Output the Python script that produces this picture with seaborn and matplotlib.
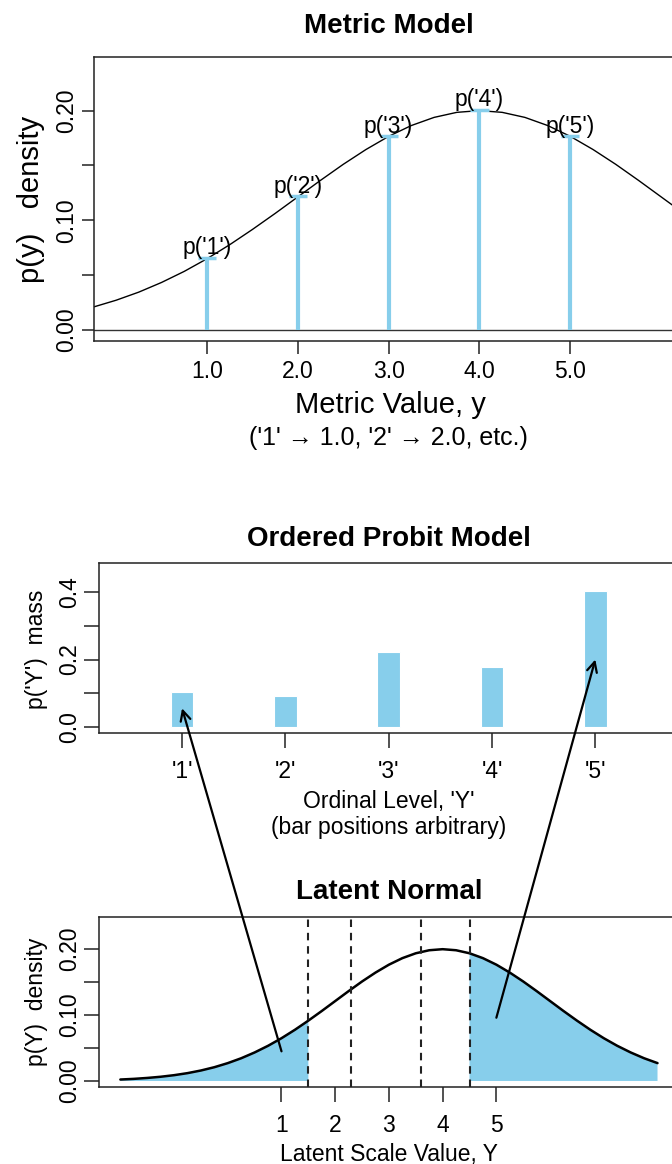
import matplotlib
matplotlib.use('Agg')
import matplotlib.pyplot as plt
from matplotlib.patches import ConnectionPatch
import seaborn as sns
import numpy as np

# latent normal density, every 0.25 from -2 to 8
latent_x = [-2.0, -1.75, -1.5, -1.25, -1.0, -0.75, -0.5, -0.25,
            0.0, 0.25, 0.5, 0.75, 1.0, 1.25, 1.5, 1.75,
            2.0, 2.25, 2.5, 2.75, 3.0, 3.25, 3.5, 3.75,
            4.0, 4.25, 4.5, 4.75, 5.0, 5.25, 5.5, 5.75,
            6.0, 6.25, 6.5, 6.75, 7.0, 7.25, 7.5, 7.75, 8.0]
latent_dens = [0.0022, 0.0032, 0.0046, 0.0064, 0.0088, 0.0119, 0.0159, 0.0209,
               0.0271, 0.0345, 0.0433, 0.0534, 0.0649, 0.0777, 0.0916, 0.1062,
               0.1213, 0.1364, 0.1510, 0.1645, 0.1765, 0.1864, 0.1938, 0.1984,
               0.2000, 0.1984, 0.1938, 0.1864, 0.1765, 0.1645, 0.1510, 0.1364,
               0.1213, 0.1062, 0.0916, 0.0777, 0.0649, 0.0534, 0.0433, 0.0345, 0.0271]

# metric model
metric_vals = [1.0, 2.0, 3.0, 4.0, 5.0]
metric_probs = [0.066, 0.122, 0.177, 0.201, 0.177]
metric_labels = ["p('1')", "p('2')", "p('3')", "p('4')", "p('5')"]
metric_ticklabels = ["1.0", "2.0", "3.0", "4.0", "5.0"]

# ordered probit model
ordinal_levels = ["'1'", "'2'", "'3'", "'4'", "'5'"]
ordinal_mass = [0.105, 0.092, 0.223, 0.179, 0.402]

# latent normal
thresholds = [1.5, 2.3, 3.6, 4.5]
latent_ticks = [1, 2, 3, 4, 5]

# arrows: (latent value, density) -> (ordinal index, mass)
arrow_from = [(1.0, 0.045), (5.0, 0.096)]
arrow_to = [(0, 0.056), (4, 0.200)]

sns.set_style("ticks")
plt.rcParams['font.family'] = ['Liberation Sans', 'DejaVu Sans']
plt.rcParams['text.color'] = 'black'
plt.rcParams['axes.labelcolor'] = 'black'
plt.rcParams['axes.edgecolor'] = '#222222'
plt.rcParams['axes.linewidth'] = 1.1
plt.rcParams['xtick.color'] = '#222222'
plt.rcParams['ytick.color'] = '#222222'
plt.rcParams['xtick.labelcolor'] = 'black'
plt.rcParams['ytick.labelcolor'] = 'black'

W, H = 672, 1164
fig = plt.figure(figsize=(W / 100, H / 100), dpi=100)


def box(l, t, r, b):
    return fig.add_axes([l / W, 1 - b / H, (r - l) / W, (b - t) / H])


def yfmt(ax, ticks, labels, length, pad):
    ax.set_yticks(ticks)
    ax.set_yticklabels(labels, rotation=90, va='center', fontsize=16.5)
    ax.tick_params(axis='y', length=length, width=1.1, pad=pad)


blue = '#87CEEB'

# ---------------- Metric model ----------------
ax1 = box(94.3, 57.3, 683, 340.7)
ax1.axhline(0, color='#333333', lw=1.0)
sns.lineplot(x=latent_x, y=latent_dens, ax=ax1, color='black', lw=1.0)
ax1.vlines(metric_vals, 0, metric_probs, color=blue, lw=3)
ax1.hlines(metric_probs, [v - 0.1 for v in metric_vals], [v + 0.1 for v in metric_vals],
           color=blue, lw=2.5)
for v, p, lab in zip(metric_vals, metric_probs, metric_labels):
    ax1.text(v, p + 0.003, lab, ha='center', va='baseline', fontsize=16.5)
ax1.set_xlim(-0.24, 6.24)
ax1.set_ylim(-0.0098, 0.2486)
ax1.set_xticks(metric_vals)
ax1.set_xticklabels(metric_ticklabels, fontsize=16.5)
ax1.tick_params(axis='x', length=9.4, width=1.1, pad=4.3)
yfmt(ax1, [0, 0.05, 0.10, 0.15, 0.20], ['0.00', '', '0.10', '', '0.20'], 9, 2.7)
ax1.set_xlabel('')
ax1.set_ylabel('')

fig.text(389 / W, 1 - 33 / H, 'Metric Model', ha='center', va='baseline',
         fontsize=20, fontweight='bold')
fig.text(31 / W, 1 - 199 / H, 'p(y)   density', ha='center', va='center',
         rotation=90, fontsize=21)
fig.text(390 / W, 1 - 413 / H, 'Metric Value, y', ha='center', va='baseline', fontsize=21)
fig.text(388 / W, 1 - 445 / H, "('1' \u2192 1.0, '2' \u2192 2.0, etc.)", ha='center',
         va='baseline', fontsize=18)

# ---------------- Ordered probit model ----------------
ax2 = box(99.4, 563.3, 679, 733.3)
sns.barplot(x=ordinal_levels, y=ordinal_mass, ax=ax2, color=blue, saturation=1,
            width=0.22, edgecolor='white', linewidth=0.8)
ax2.set_xlim(-0.80, 4.81)
ax2.set_ylim(-0.0177, 0.4838)
ax2.tick_params(axis='x', length=10.8, width=1.1, pad=8.4, labelsize=16.5)
yfmt(ax2, [0, 0.1, 0.2, 0.3, 0.4], ['0.0', '', '0.2', '', '0.4'], 10.8, 2.2)
ax2.set_xlabel('')
ax2.set_ylabel('')

fig.text(389 / W, 1 - 546 / H, 'Ordered Probit Model', ha='center', va='baseline',
         fontsize=20, fontweight='bold')
fig.text(37 / W, 1 - 649 / H, "p('Y')  mass", ha='center', va='center',
         rotation=90, fontsize=16.5)
fig.text(389 / W, 1 - 808 / H, "Ordinal Level, 'Y'", ha='center', va='baseline', fontsize=16.5)
fig.text(389 / W, 1 - 834 / H, "(bar positions arbitrary)", ha='center', va='baseline',
         fontsize=16.5)

# ---------------- Latent normal ----------------
ax3 = box(99.4, 917.3, 679, 1087.3)
lx = np.array(latent_x)
ax3.fill_between(lx, latent_dens, 0, where=(lx <= thresholds[0]) | (lx >= thresholds[-1]),
                 color=blue, lw=0)
sns.lineplot(x=latent_x, y=latent_dens, ax=ax3, color='black', lw=1.8)
for t in thresholds:
    ax3.axvline(t, color='#222222', lw=1.5, linestyle=(0, (3.6, 2.8)))
ax3.set_xlim(-2.39, 8.4)
ax3.set_ylim(-0.0096, 0.2484)
ax3.set_xticks(latent_ticks)
ax3.set_xticklabels([str(t) for t in latent_ticks], fontsize=16.5)
ax3.tick_params(axis='x', length=10.8, width=1.1, pad=8.6)
yfmt(ax3, [0, 0.05, 0.10, 0.15, 0.20], ['0.00', '', '0.10', '', '0.20'], 10.8, 2.4)
ax3.set_xlabel('')
ax3.set_ylabel('')

fig.text(389 / W, 1 - 899 / H, 'Latent Normal', ha='center', va='baseline',
         fontsize=20, fontweight='bold')
fig.text(37 / W, 1 - 1002 / H, 'p(Y)  density', ha='center', va='center',
         rotation=90, fontsize=16.5)
fig.text(389 / W, 1 - 1161 / H, 'Latent Scale Value, Y', ha='center', va='baseline',
         fontsize=16.5)

# arrows from latent regions up to the ordinal bars
for a, b in zip(arrow_from, arrow_to):
    con = ConnectionPatch(xyA=a, coordsA=ax3.transData, xyB=b, coordsB=ax2.transData,
                          arrowstyle='->', lw=1.6, color='black', mutation_scale=18)
    fig.add_artist(con)

fig.savefig('out.png', dpi=100)
